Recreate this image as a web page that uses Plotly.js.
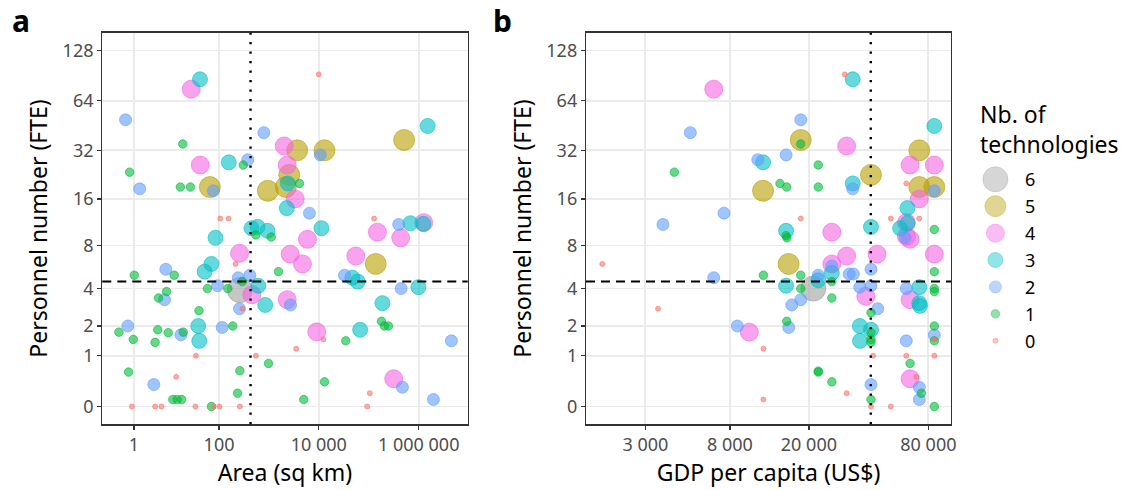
<!DOCTYPE html>
<html>
<head>
<meta charset="utf-8">
<script src="https://cdn.plot.ly/plotly-3.0.1.min.js"></script>
<style>html,body{margin:0;padding:0;background:#fff;}#chart{width:1134px;height:490px;}</style>
</head>
<body>
<div id="chart"></div>
<script>
// ---------------- DATA ----------------
// Panel a: area (sq km), personnel (FTE), number of technologies
const areaA = [41,27,10000,0.36,794,1510000,510000,18,2030,3700,13000,10700,0.64,41.5,157,379,307,2330,2560,2190,2400,4110,955,3370,1.6,16,26,65,77,2290,6500,106,155,128000,398000,682000,1260000,1240000,450,594,942,550,1117,11300,149000,85,5940,436000,259,2680,55000,4720,138000,70,51,215,7.7,1.03,11.8,1560,243,416,32700,47000,60000,93,614,445000,986000,58,150,262,293,457,8,5.2,7.2,2330,2716,847,188000,258,293,39,179000,206000,248000,0.51,0,5,8.7,18.4,16.4,37.7,39.6,116,189,9120,67300,34700,12400,4500000,0.94,4.3,33.7,550,3530,986,0.56,262,13,13000,316000,472000,105000,4,236,11,13.7,17,5010,1970000,0.82,4.3,6.1,33,78,102,262,92900,70];
const persA = [86,75,92,49,41,45,37,35,34,32,32,30,23.5,26,27,28,26,26,22.6,19,20,20,18,16,18.5,19,19,19,18,14,13,12,12,12,11,11.2,11.3,11.1,10.4,10.6,10,9.4,9.1,10.4,9.8,9,8.8,9,7.1,7,6.8,6,6,6,5.3,6,5.5,5,5,5.3,4.8,5,5,4.8,4.5,4.2,4.2,4,4.1,4,4,3.9,4.5,3.6,3.8,3.4,3.3,3.3,3,3,3.1,2.8,2.8,2.7,2.2,2,2,2,1.76,1.85,1.74,1.76,1.66,2,1.45,1.94,2,1.77,1.85,1.45,1.5,1.45,1.5,1.4,1,1,1.2,0.8,0.6,0.63,0.5,0.4,0.46,0.3,0.2,0.35,0.2,0.1,0.1,0.1,0.1,0.1,0,0,0,0,0,0,0,0,0];
const techA = [3,4,0,2,2,3,5,1,4,5,5,2,1,4,3,2,1,4,5,5,3,1,5,4,2,1,1,5,2,3,2,0,0,0,2,3,4,3,3,3,3,1,1,3,4,3,4,4,4,4,4,4,5,3,3,0,2,1,1,1,2,2,2,3,3,2,3,2,3,1,1,6,1,4,1,1,2,4,2,3,3,2,0,1,1,1,1,2,1,1,1,1,2,3,3,2,1,4,3,1,0,2,1,1,0,0,0,1,1,1,0,1,4,2,0,2,1,1,1,1,1,2,0,0,0,0,0,0,0,0,1];

// Panel b: GDP per capita (US$), personnel (FTE), number of technologies
const gdpB = [6630,30300,33250,5055,18200,18200,18200,31000,85700,72000,15350,11050,11750,4200,22300,64700,85700,41100,14300,15470,22300,33250,33250,11750,72000,85700,85700,61900,72000,62700,3680,7470,18200,51700,72000,15350,15350,15500,26100,41100,57600,62700,62000,61000,62000,64700,85700,85700,85700,31000,26100,26100,26100,44100,15800,1820,6630,11800,18200,22300,22300,31900,33500,41100,26100,15350,18200,21060,36100,41100,38700,44450,26100,16400,18200,61900,72000,64700,72000,72600,85700,85700,41100,15470,15830,8720,10020,3475,36100,36200,41100,41100,41100,41100,85700,85700,85700,85700,61900,11800,42100,61900,85700,64700,22300,22300,26100,64700,69600,72000,73700,72000,41100,31000,41100,11800,41100,51700,85700];
const persB = [75,92,86,41,49,37,35,34,45,32,30,28,27,23.5,26,26,26,22.6,20,19,19,20,18.5,18,19,19,18,20,16,14,11,13,12,12,12,10,9.3,9.0,9.8,10.6,10.4,11.2,11.3,9,9.2,8.8,10.2,7,5.3,6.8,6,5.8,5.2,7,6,6,4.8,5,5,5,4.6,5.1,5.1,5.5,4.5,4.2,4,4,4.1,4.2,3.5,2.8,3.4,3,3.3,4,4.1,3.3,3.1,2.95,4,3.8,2.6,2.2,1.94,2,1.76,2.8,2,1.45,1.85,1.75,1.5,1.4,2,1.65,1.45,1.5,1.45,1.2,1,1,1,0.8,0.62,0.6,0.4,0.46,0.5,0.3,0.2,0.1,0.35,0.2,0.1,0.1,0,0,0];
const techB = [4,0,3,2,2,5,1,4,3,5,2,2,3,1,1,4,4,5,1,1,1,3,2,5,5,5,2,0,4,3,2,2,0,0,0,3,1,1,4,3,3,3,4,2,4,4,1,4,1,4,4,2,3,4,5,0,2,1,1,2,3,2,2,2,1,3,1,6,2,2,4,2,1,2,2,2,3,4,3,3,1,1,1,1,2,2,4,0,3,3,3,1,1,1,1,2,1,0,2,0,0,0,0,1,1,1,1,4,0,2,1,2,2,0,1,0,0,0,1];

// Reference lines (medians)
const persMedian = 4.5;
const areaMedian = 430;
const gdpMedian = 41000;

// Tick labels
const persTicks = [0,1,2,4,8,16,32,64,128];
const persTickText = ['0','1','2','4','8','16','32','64','128'];
const areaTicks = [1,100,10000,1000000];
const areaTickText = ['1','100','10 000','1 000 000'];
const gdpTicks = [3000,8000,20000,80000];
const gdpTickText = ['3 000','8 000','20 000','80 000'];

const techLevels = [6,5,4,3,2,1,0];
const techLabels = ['6','5','4','3','2','1','0'];
const legendTitle = 'Nb. of<br>technologies';

// ---------------- STYLE ----------------
const techRGB = {0:'248,118,109',1:'0,186,56',2:'97,156,255',3:'0,191,196',4:'245,100,227',5:'183,159,0',6:'160,160,160'};
const techSize = {0:5,1:8.5,2:12,3:15,4:18,5:21,6:25};
const ALPHA = 0.6;

const tr2 = v => Math.log2(v + 1);   // pseudo-log2 for personnel
const tr10 = v => Math.log10(v + 1); // pseudo-log10 for area

function markerFor(t){
  return {size: techSize[t], color: 'rgba('+techRGB[t]+','+ALPHA+')',
          line:{color:'rgba('+techRGB[t]+','+ALPHA+')', width:1}};
}

const traces = [];
techLevels.forEach(t => {
  const xa=[], ya=[];
  techA.forEach((v,i)=>{ if(v===t){ xa.push(tr10(areaA[i])); ya.push(tr2(persA[i])); }});
  traces.push({type:'scatter', mode:'markers', x:xa, y:ya, xaxis:'x', yaxis:'y', marker:markerFor(t), hoverinfo:'skip', cliponaxis:false});
  const xb=[], yb=[];
  techB.forEach((v,i)=>{ if(v===t){ xb.push(gdpB[i]); yb.push(tr2(persB[i])); }});
  traces.push({type:'scatter', mode:'markers', x:xb, y:yb, xaxis:'x2', yaxis:'y2', marker:markerFor(t), hoverinfo:'skip', cliponaxis:false});
});
// legend keys
traces.push({type:'scatter', mode:'markers', x:techLevels.map(()=>0.1), y:techLevels, xaxis:'x3', yaxis:'y3',
  marker:{size:techLevels.map(t=>techSize[t]), color:techLevels.map(t=>'rgba('+techRGB[t]+','+ALPHA+')'),
          line:{color:techLevels.map(t=>'rgba('+techRGB[t]+','+ALPHA+')'), width:1}}, hoverinfo:'skip', cliponaxis:false});

const W=1134, H=490;
const yDom = [1-424.3/H, 1-32.7/H];
const axCommon = {
  showline:true, mirror:true, linecolor:'#333333', linewidth:1.2,
  showgrid:true, gridcolor:'#EBEBEB', gridwidth:1.8, zeroline:false,
  ticks:'outside', ticklen:4, tickwidth:1.2, tickcolor:'#333333',
  tickfont:{size:18, color:'#4D4D4D', family:'Noto Sans'}, automargin:false
};
const yAx = Object.assign({}, axCommon, {range:[-0.35,7.36], tickmode:'array', tickvals:persTicks.map(tr2), ticktext:persTickText,
  title:{text:'Personnel number (FTE)', font:{size:23, color:'#000'}, standoff:8}});

const legendAnn = techLevels.map((t,i)=>({xref:'paper', yref:'y3', x:1023/W, y:t, text:techLabels[i], showarrow:false,
  xanchor:'left', yanchor:'middle', font:{size:18, color:'#000'}}));

const layout = {
  width:W, height:H, margin:{l:0,r:0,t:0,b:0}, paper_bgcolor:'#fff', plot_bgcolor:'#fff',
  font:{family:'Noto Sans, sans-serif', color:'#000'}, showlegend:false,
  xaxis: Object.assign({}, axCommon, {domain:[102.3/W, 467.7/W], range:[-0.332, 6.98], anchor:'y', tickmode:'array',
    tickvals:areaTicks.map(tr10), ticktext:areaTickText, title:{text:'Area (sq km)', font:{size:23,color:'#000'}, standoff:8}}),
  yaxis: Object.assign({}, yAx, {domain:yDom, anchor:'x'}),
  xaxis2: Object.assign({}, axCommon, {domain:[586/W, 951/W], type:'log', range:[3.178, 5.017], anchor:'y2', tickmode:'array',
    tickvals:gdpTicks, ticktext:gdpTickText, title:{text:'GDP per capita (US$)', font:{size:23,color:'#000'}, standoff:8}}),
  yaxis2: Object.assign({}, yAx, {domain:yDom, anchor:'x2'}),
  xaxis3: {domain:[980/W, 1], range:[0,1], visible:false, anchor:'y3', fixedrange:true},
  yaxis3: {domain:[1-354.15/H, 1-165.85/H], range:[-0.5,6.5], visible:false, anchor:'x3', fixedrange:true},
  shapes: [
    {type:'line', xref:'x domain', x0:0, x1:1, yref:'y', y0:tr2(persMedian), y1:tr2(persMedian), line:{color:'#000', width:2, dash:'9px,6px'}},
    {type:'line', xref:'x2 domain', x0:0, x1:1, yref:'y2', y0:tr2(persMedian), y1:tr2(persMedian), line:{color:'#000', width:2, dash:'9px,6px'}},
    {type:'line', xref:'x', x0:tr10(areaMedian), x1:tr10(areaMedian), yref:'y domain', y0:0, y1:1, line:{color:'#000', width:2.4, dash:'2.4px,7.1px'}},
    {type:'line', xref:'x2', x0:gdpMedian, x1:gdpMedian, yref:'y2 domain', y0:0, y1:1, line:{color:'#000', width:2.4, dash:'2.4px,7.1px'}}
  ],
  annotations: [
    {xref:'paper', yref:'paper', x:10/W, y:1-20/H, text:'<b>a</b>', showarrow:false, xanchor:'left', yanchor:'middle', font:{size:30,color:'#000'}},
    {xref:'paper', yref:'paper', x:491/W, y:1-20/H, text:'<b>b</b>', showarrow:false, xanchor:'left', yanchor:'middle', font:{size:30,color:'#000'}},
    {xref:'paper', yref:'paper', x:978/W, y:1-129/H, text:legendTitle, showarrow:false, xanchor:'left', yanchor:'middle', align:'left', font:{size:23,color:'#000'}}
  ].concat(legendAnn)
};

Plotly.newPlot('chart', traces, layout, {staticPlot:true, displayModeBar:false});
</script>
</body>
</html>
